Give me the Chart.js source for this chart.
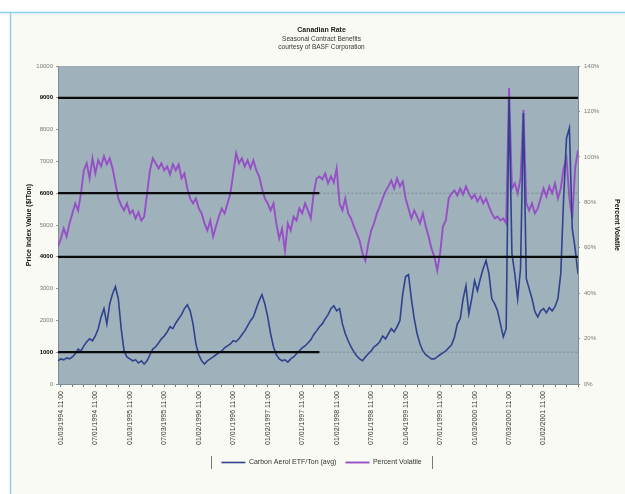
<!DOCTYPE html>
<html>
<head>
<meta charset="utf-8">
<script src="https://cdn.jsdelivr.net/npm/chart.js@4/dist/chart.umd.min.js"></script>
<style>
  html, body { margin: 0; padding: 0; background: #ffffff; }
  #wrap { position: absolute; left: 0; top: 0; width: 625px; height: 494px; }
</style>
</head>
<body>
<div id="wrap"><canvas id="c" width="625" height="494"></canvas></div>
<script>
// Half-month samples, left axis value
const carbonSeries = [
  730,790,760,820,790,850,950,1100,1040,1200,
  1330,1420,1360,1510,1740,2110,2370,1890,2520,2840,
  3060,2680,1740,1040,850,790,730,760,660,730,
  630,730,920,1100,1170,1290,1420,1510,1640,1800,
  1740,1920,2050,2180,2370,2490,2300,1890,1260,920,
  730,630,730,790,850,920,980,1040,1140,1200,
  1260,1360,1330,1420,1550,1670,1830,1990,2110,2370,
  2620,2810,2520,2110,1580,1170,920,790,730,760,
  690,790,850,950,1040,1140,1200,1290,1390,1550,
  1670,1800,1890,2050,2180,2370,2460,2300,2370,1890,
  1580,1360,1170,1010,880,790,730,850,950,1040,
  1170,1230,1330,1510,1420,1580,1740,1640,1800,1990,
  2840,3380,3440,2680,2050,1580,1260,1040,920,850,
  790,790,850,920,980,1040,1140,1230,1480,1890,
  2050,2680,3090,2210,2680,3250,2930,3310,3630,3880,
  3470,2680,2520,2300,1890,1480,1740,8990,4100,3470,
  2680,3630,8520,3310,3000,2680,2270,2110,2300,2370,
  2240,2400,2300,2430,2680,3470,5840,7730,8050,4890,
  4260,3470
];

// Half-month samples, right axis percent
const volatileSeries = [
  60.5,64.0,68.4,64.9,70.7,75.1,79.5,76.4,83.9,94.1,
  97.2,90.5,99.4,92.7,98.5,95.8,100.3,96.7,99.4,94.9,
  88.3,81.7,78.6,76.4,79.5,75.1,76.4,72.9,75.6,72.0,
  73.7,83.9,94.1,99.4,97.2,94.9,97.2,94.1,95.8,92.3,
  96.7,94.1,96.7,90.5,92.7,86.1,81.7,79.5,81.7,77.3,
  75.1,70.7,67.6,72.0,64.9,69.4,73.7,77.3,75.1,79.5,
  83.9,92.7,101.6,97.2,99.4,95.8,98.5,94.9,98.5,94.1,
  91.4,86.1,81.7,79.5,76.4,79.5,70.7,64.0,68.4,58.7,
  70.7,67.6,73.7,72.0,77.3,75.1,79.5,76.4,72.9,83.9,
  90.5,91.4,90.1,92.7,88.3,91.4,88.7,94.9,79.5,76.4,
  81.7,75.1,72.9,69.4,66.2,63.1,57.4,54.3,61.8,67.6,
  70.7,75.1,78.2,81.7,84.8,87.0,89.6,86.1,90.5,87.0,
  89.2,81.7,77.3,72.9,76.4,73.7,70.7,75.1,69.4,64.9,
  59.6,56.1,49.9,57.4,69.4,72.0,81.7,83.9,85.2,83.0,
  86.1,83.4,87.0,83.9,81.7,83.4,80.4,82.6,79.5,81.7,
  78.2,75.1,72.9,73.7,72.0,72.9,70.7,130.3,86.1,88.3,
  83.9,90.5,120.6,79.5,76.4,79.5,75.1,77.3,81.7,86.1,
  82.6,87.0,83.9,88.3,81.7,86.1,94.9,99.4,81.7,72.9,
  94.9,102.9
];

// Date labels, one every 12 samples (six months)
const dateLabels = [
  '01/03/1994 11:00','07/01/1994 11:00','01/03/1995 11:00','07/03/1995 11:00','01/02/1996 11:00',
  '07/01/1996 11:00','01/02/1997 11:00','07/01/1997 11:00','01/02/1998 11:00','07/01/1998 11:00',
  '01/04/1999 11:00','07/01/1999 11:00','01/03/2000 11:00','07/03/2000 11:00','01/02/2001 11:00'
];

// Reference levels (left axis) and the sample index where each stops
const levelValues = [9000, 6000, 4000, 1000];
const levelEnds   = [181, 91, 181, 91];

const LAST = carbonSeries.length - 1;
const FIRST_LABEL = 1;
const LABEL_STEP = 12;
const MINOR_STEP = 4;

const seriesNames = ['Carbon Aerol ETF/Ton (avg)', 'Percent Volatile'];

const toPoints = arr => arr.map((v, i) => ({ x: i, y: v }));

const datasets = [];
levelValues.forEach((v, k) => {
  datasets.push({
    label: '_level' + k,
    data: [{ x: 0, y: v }, { x: levelEnds[k], y: v }],
    yAxisID: 'y',
    borderColor: '#0a0a0a',
    borderWidth: 2.2,
    pointRadius: 0,
    fill: false
  });
  if (levelEnds[k] < LAST) {
    datasets.push({
      label: '_levelrest' + k,
      data: [{ x: levelEnds[k], y: v }, { x: LAST, y: v }],
      yAxisID: 'y',
      borderColor: 'rgba(95,110,120,0.55)',
      borderWidth: 1,
      borderDash: [2, 2],
      pointRadius: 0,
      fill: false
    });
  }
});
datasets.push({
  label: seriesNames[0],
  data: toPoints(carbonSeries),
  yAxisID: 'y',
  borderColor: '#2f428e',
  backgroundColor: '#2f428e',
  borderWidth: 1.6,
  pointRadius: 0,
  pointStyle: 'line',
  tension: 0,
  fill: false
});
datasets.push({
  label: seriesNames[1],
  data: toPoints(volatileSeries),
  yAxisID: 'y2',
  borderColor: '#9650c6',
  backgroundColor: '#9650c6',
  borderWidth: 1.9,
  pointRadius: 0,
  pointStyle: 'line',
  tension: 0,
  fill: false
});

const levelSet = new Set(levelValues);
const isLevel = ctx => !!(ctx && ctx.tick && levelSet.has(ctx.tick.value));

const backdrop = {
  id: 'backdrop',
  beforeDraw(chart) {
    const { ctx, chartArea: a } = chart;
    ctx.save();
    ctx.fillStyle = '#ffffff';
    ctx.fillRect(0, 0, chart.width, chart.height);
    ctx.fillStyle = '#fafaf4';
    ctx.fillRect(10, 12, chart.width - 10, chart.height - 12);
    ctx.strokeStyle = '#8ccfee';
    ctx.lineWidth = 1.5;
    ctx.beginPath();
    ctx.moveTo(0, 12.5); ctx.lineTo(chart.width, 12.5);
    ctx.moveTo(10.5, 12); ctx.lineTo(10.5, chart.height);
    ctx.stroke();
    ctx.fillStyle = '#9fb1bb';
    ctx.fillRect(a.left, a.top, a.right - a.left, a.bottom - a.top);
    ctx.restore();
  },
  afterDraw(chart) {
    const lg = chart.legend;
    if (!lg || !lg.legendHitBoxes || !lg.legendHitBoxes.length) return;
    const boxes = lg.legendHitBoxes;
    const l = Math.min(...boxes.map(b => b.left)) - 10;
    const r = Math.max(...boxes.map(b => b.left + b.width)) + 10;
    const t = Math.min(...boxes.map(b => b.top)) - 3;
    const btm = Math.max(...boxes.map(b => b.top + b.height)) + 3;
    const ctx = chart.ctx;
    ctx.save();
    ctx.strokeStyle = '#777';
    ctx.lineWidth = 1;
    ctx.beginPath();
    ctx.moveTo(Math.round(l) + 0.5, t); ctx.lineTo(Math.round(l) + 0.5, btm);
    ctx.moveTo(Math.round(r) + 0.5, t); ctx.lineTo(Math.round(r) + 0.5, btm);
    ctx.stroke();
    ctx.restore();
  }
};

new Chart(document.getElementById('c'), {
  type: 'line',
  data: { datasets },
  plugins: [backdrop],
  options: {
    responsive: false,
    animation: false,
    layout: { padding: { left: 20, right: 2, top: 18, bottom: 18 } },
    plugins: {
      title: {
        display: true,
        text: 'Canadian Rate',
        color: '#222',
        font: { family: 'Liberation Sans', size: 7, weight: 'bold' },
        padding: { top: 8, bottom: 1 }
      },
      subtitle: {
        display: true,
        text: ['Seasonal Contract Benefits', 'courtesy of BASF Corporation'],
        color: '#333',
        font: { family: 'Liberation Sans', size: 6.5 },
        padding: { top: 0, bottom: 15 }
      },
      legend: {
        display: true,
        position: 'bottom',
        labels: {
          filter: item => !item.text.startsWith('_'),
          usePointStyle: true,
          pointStyleWidth: 24,
          color: '#333',
          font: { family: 'Liberation Sans', size: 7 },
          padding: 9
        }
      },
      tooltip: { enabled: false }
    },
    scales: {
      x: {
        type: 'linear',
        min: 0,
        max: LAST,
        afterFit: s => { s.height = 66; },
        afterBuildTicks: s => {
          const t = [];
          for (let v = FIRST_LABEL; v <= LAST; v += MINOR_STEP) t.push({ value: v });
          s.ticks = t;
        },
        ticks: {
          autoSkip: false,
          maxRotation: 90,
          minRotation: 90,
          padding: 4,
          color: '#333',
          font: { family: 'Liberation Sans', size: 7 },
          callback: v => {
            const k = (v - FIRST_LABEL) / LABEL_STEP;
            return Number.isInteger(k) && dateLabels[k] ? dateLabels[k] : '';
          }
        },
        grid: { display: true, drawOnChartArea: false, tickLength: 3, color: '#6b7b85' },
        border: { display: true, color: '#7d8d96' }
      },
      y: {
        position: 'left',
        min: 0,
        max: 10000,
        afterFit: s => { s.width = 38; },
        ticks: {
          stepSize: 1000,
          padding: 3,
          callback: v => String(v),
          color: ctx => isLevel(ctx) ? '#000' : '#777',
          font: ctx => ({ family: 'Liberation Sans', size: 6, weight: isLevel(ctx) ? 'bold' : 'normal' })
        },
        grid: { display: true, drawOnChartArea: false, tickLength: 2, color: '#8a9aa3' },
        border: { display: true, color: '#7d8d96' },
        title: {
          display: true,
          text: 'Price Index Value ($/Ton)',
          color: '#111',
          font: { family: 'Liberation Sans', size: 7, weight: 'bold' },
          padding: { top: 5, bottom: 2 }
        }
      },
      y2: {
        position: 'right',
        min: 0,
        max: 140,
        afterFit: s => { s.width = 45; },
        ticks: {
          stepSize: 20,
          padding: 4,
          color: '#777',
          font: { family: 'Liberation Sans', size: 6 },
          callback: v => v + '%'
        },
        grid: { display: true, drawOnChartArea: false, tickLength: 2, color: '#8a9aa3' },
        border: { display: true, color: '#7d8d96' },
        title: {
          display: true,
          text: 'Percent Volatile',
          color: '#111',
          font: { family: 'Liberation Sans', size: 7, weight: 'bold' },
          padding: { top: 2, bottom: 7 }
        }
      }
    }
  }
});
</script>
</body>
</html>
